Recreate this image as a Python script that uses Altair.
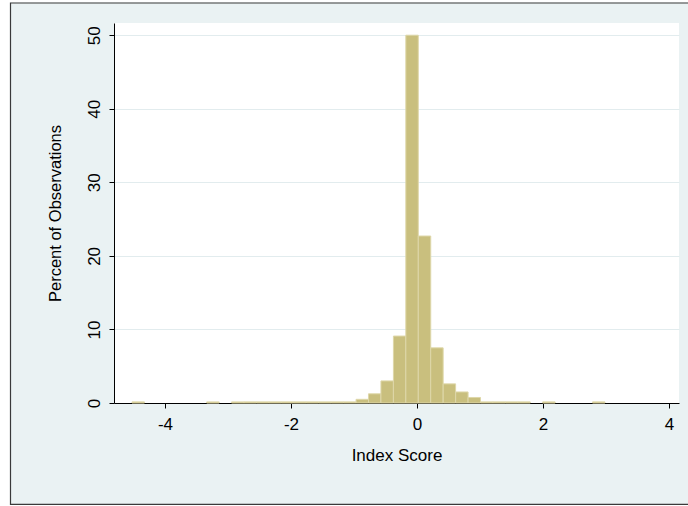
import altair as alt
import pandas as pd

# Histogram of index scores: left edge of each non-empty bin and its share (%)
BIN_WIDTH = 0.1976
bin_start = [-4.524, -3.338, -2.943, -2.746, -2.548, -2.350, -2.153, -1.955,
             -1.758, -1.560, -1.362, -1.165, -0.967, -0.770, -0.572, -0.374,
             -0.177, 0.021, 0.218, 0.416, 0.614, 0.811, 1.009, 1.206, 1.404,
             1.601, 1.996, 2.787]
percent = [0.15, 0.15, 0.15, 0.15, 0.15, 0.15, 0.15, 0.15,
           0.15, 0.15, 0.15, 0.15, 0.5, 1.25, 3.0, 9.1,
           50.0, 22.7, 7.5, 2.6, 1.5, 0.75, 0.15, 0.15, 0.15,
           0.15, 0.15, 0.15]

x_ticks = [-4, -2, 0, 2, 4]
y_ticks = [0, 10, 20, 30, 40, 50]

df = pd.DataFrame({
    "start": bin_start,
    "end": [s + BIN_WIDTH for s in bin_start],
    "pct": percent,
    "base": [0.0] * len(bin_start),
})

FONT = "Liberation Sans"
BG = "#EAF2F3"
BAR = "#C9BF7E"
EDGE = "#DED7A9"

W, H = 565, 380
PAD = {"left": 114, "top": 23, "right": 9, "bottom": 103}

# plain hyphen-minus on tick labels
HYPHEN = "replace(datum.label, '\u2212', '-')"

bars = alt.Chart(df).mark_rect(fill=BAR, stroke=EDGE, strokeWidth=1).encode(
    x=alt.X(
        "start:Q",
        scale=alt.Scale(domain=[-4.81, 4.16], nice=False, zero=False),
        axis=alt.Axis(
            values=x_ticks, title="Index Score", grid=False,
            labelPadding=8, titleY=52, titleBaseline="middle",
            labelExpr=HYPHEN,
        ),
    ),
    x2="end:Q",
    y=alt.Y(
        "pct:Q",
        scale=alt.Scale(domain=[0, 51.66], nice=False),
        axis=alt.Axis(
            values=y_ticks, title="Percent of Observations", grid=True,
            gridColor="#E2ECEE", gridWidth=1,
            labelAngle=270, labelAlign="center", labelBaseline="bottom",
            labelPadding=6,
            titleAngle=270, titleX=-59, titleY=H / 2,
            titleAlign="center", titleBaseline="middle", titleFontSize=16.5,
        ),
    ),
    y2="base:Q",
)

# Outer graph-region frame with white margin strips around it
one = pd.DataFrame({"k": [0]})
frame = alt.Chart(one).mark_rect(
    fillOpacity=0, stroke="#3A3A3A", strokeWidth=1.2
).encode(
    x=alt.value(-103.5), x2=alt.value(600),
    y=alt.value(-20), y2=alt.value(481.3),
)
left_strip = alt.Chart(one).mark_rect(fill="white").encode(
    x=alt.value(-114), x2=alt.value(-104.1),
    y=alt.value(-23), y2=alt.value(483),
)
top_strip = alt.Chart(one).mark_rect(fill="white").encode(
    x=alt.value(-114), x2=alt.value(600),
    y=alt.value(-23), y2=alt.value(-20.6),
)
bottom_strip = alt.Chart(one).mark_rect(fill="white").encode(
    x=alt.value(-114), x2=alt.value(600),
    y=alt.value(481.9), y2=alt.value(483),
)

chart = alt.layer(bars, left_strip, top_strip, bottom_strip, frame).properties(
    width=W, height=H,
    autosize=alt.AutoSizeParams(type="none"),
    padding=PAD,
    background=BG,
).configure_view(
    fill="white", stroke=None,
).configure_axis(
    domainColor="#000000", domainWidth=1,
    tickColor="#000000", tickSize=5, tickWidth=1,
    labelFont=FONT, labelFontSize=17, labelColor="#000000",
    titleFont=FONT, titleFontSize=17, titleColor="#000000",
    titleFontWeight="normal",
)

chart.save("out.html", embed_options={"renderer": "svg", "actions": False})
